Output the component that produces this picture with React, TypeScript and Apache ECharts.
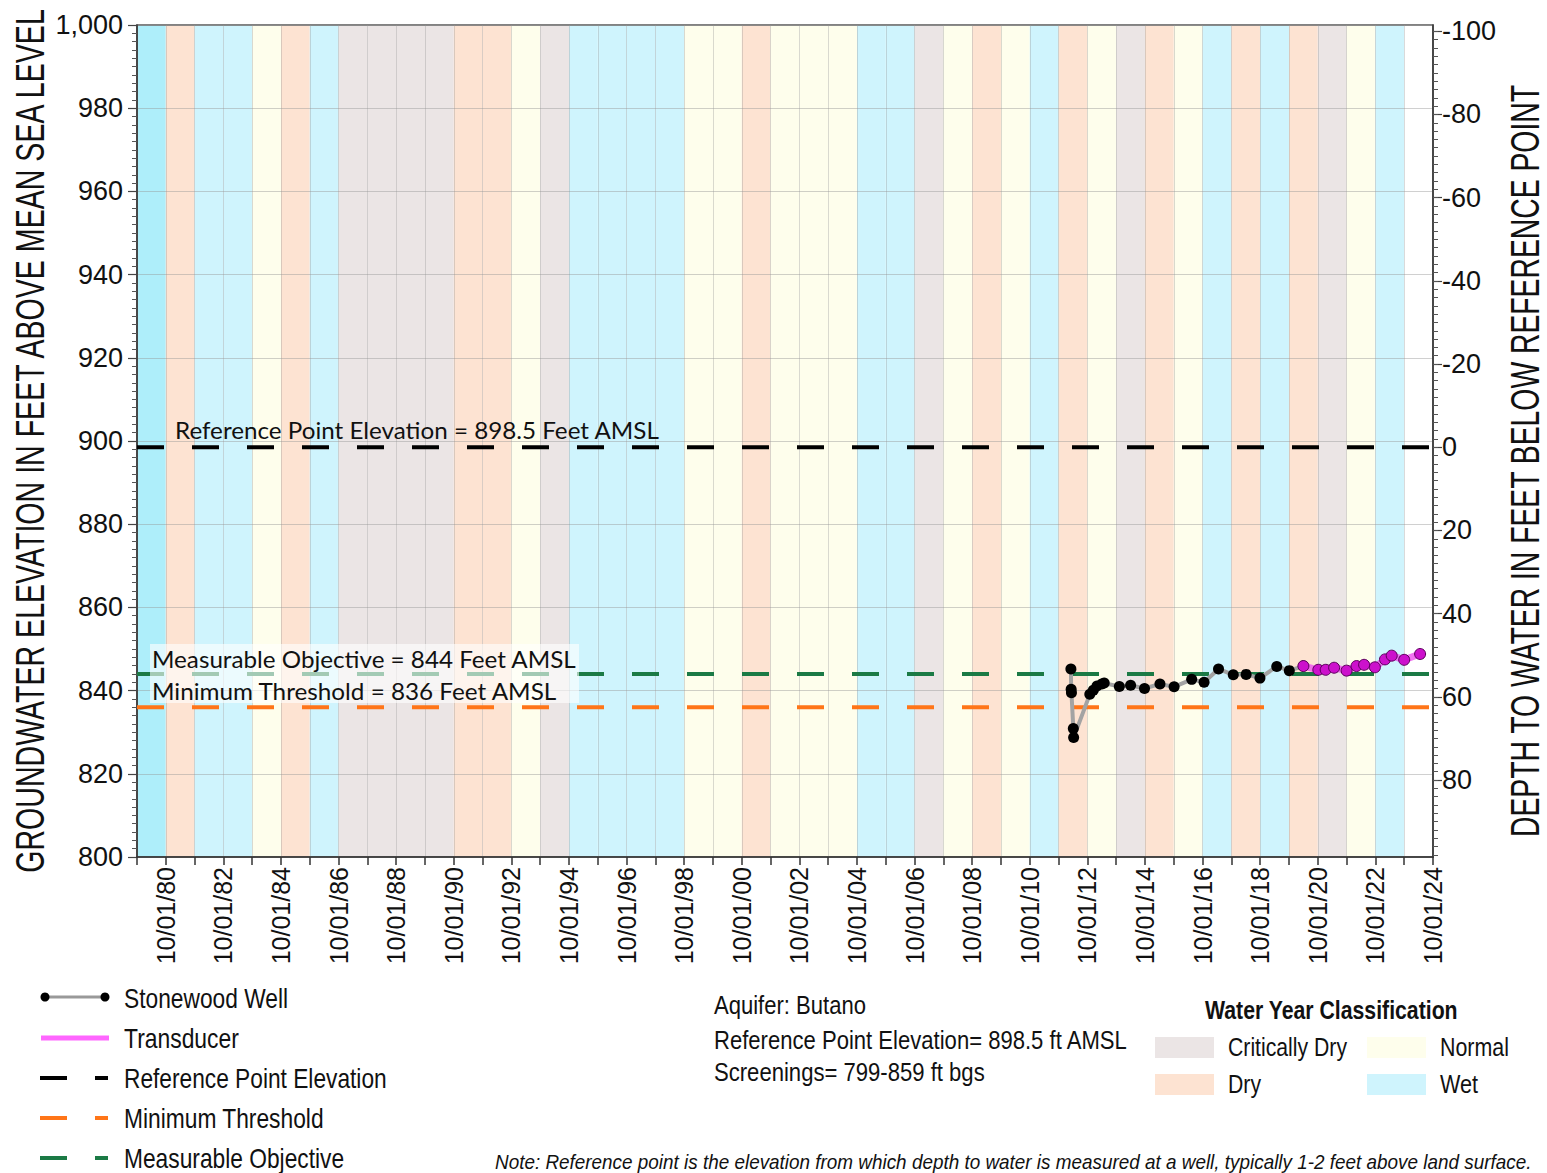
import React, { useEffect, useRef } from "react";
import * as echarts from "echarts";

// ---------------- DATA ----------------
const WATER_YEARS = [
  1980, 1981, 1982, 1983, 1984, 1985, 1986, 1987, 1988, 1989, 1990, 1991, 1992, 1993, 1994,
  1995, 1996, 1997, 1998, 1999, 2000, 2001, 2002, 2003, 2004, 2005, 2006, 2007, 2008, 2009,
  2010, 2011, 2012, 2013, 2014, 2015, 2016, 2017, 2018, 2019, 2020, 2021, 2022, 2023, 2024,
];
// C = Critically Dry, D = Dry, N = Normal, W = Wet, "" = not classified
const WY_CLASS = [
  "W", "D", "W", "W", "N", "D", "W", "C", "C", "C", "C", "D", "D", "N", "C",
  "W", "W", "W", "W", "N", "N", "D", "N", "N", "N", "W", "W", "C", "N", "D",
  "N", "W", "D", "N", "C", "D", "N", "W", "D", "W", "D", "C", "N", "W", "",
];

const WELL_DATES = [
  "2012-03-05", "2012-03-08", "2012-03-12", "2012-04-05", "2012-04-09", "2012-11-01",
  "2012-12-15", "2013-02-01", "2013-04-01", "2013-05-01", "2013-11-10", "2014-04-01",
  "2014-09-25", "2015-04-08", "2015-10-05", "2016-05-15", "2016-10-20", "2017-04-20",
  "2017-10-25", "2018-04-05", "2018-09-28", "2019-04-28", "2019-10-05", "2020-04-01",
];
const WELL_VALUES = [
  845.2, 840.3, 839.5, 830.9, 828.7, 839.1,
  840.1, 841.1, 841.6, 841.8, 841.0, 841.3,
  840.5, 841.6, 840.9, 842.7, 842.0, 845.2,
  843.8, 843.9, 843.0, 845.8, 844.8, 845.9,
];

const TRANSDUCER_DATES = [
  "2020-04-01", "2020-10-08", "2021-01-10", "2021-04-25", "2021-10-01", "2022-02-05",
  "2022-05-10", "2022-09-25", "2023-02-01", "2023-04-25", "2023-10-01", "2024-04-20",
];
const TRANSDUCER_VALUES = [
  845.9, 845.0, 845.0, 845.5, 844.8, 845.9,
  846.2, 845.6, 847.5, 848.4, 847.4, 848.8,
];

const REF_POINT_ELEV = 898.5;
const MEASURABLE_OBJECTIVE = 844;
const MINIMUM_THRESHOLD = 836;

const X_START = "1979-10-01";
const X_END = "2024-10-01";
const ELEV_MIN = 800;
const ELEV_MAX = 1000;

const X_TICK_LABELS = [
  "10/01/80", "10/01/82", "10/01/84", "10/01/86", "10/01/88", "10/01/90", "10/01/92", "10/01/94",
  "10/01/96", "10/01/98", "10/01/00", "10/01/02", "10/01/04", "10/01/06", "10/01/08", "10/01/10",
  "10/01/12", "10/01/14", "10/01/16", "10/01/18", "10/01/20", "10/01/22", "10/01/24",
];
const DEPTH_TICK_LABELS = [-100, -80, -60, -40, -20, 0, 20, 40, 60, 80];

// ---------------- HELPERS ----------------
const CLASS_COLORS: Record<string, string> = {
  C: "#ebe5e5",
  D: "#fde3d2",
  N: "#fefeec",
  W: "#cff4fd",
  "": "#ffffff",
};

function toYear(s: string): number {
  const [y, m, d] = s.split("-").map(Number);
  const dim = new Date(Date.UTC(y, m, 0)).getUTCDate();
  return y + (m - 1 + (d - 1) / dim) / 12;
}

let measureCtx: CanvasRenderingContext2D | null = null;
function measure(text: string, font: string): number {
  if (!measureCtx) measureCtx = document.createElement("canvas").getContext("2d");
  if (!measureCtx) return text.length * 10;
  measureCtx.font = font;
  return measureCtx.measureText(text).width;
}

function fitText(
  text: string,
  x: number,
  y: number,
  width: number,
  opts: { size: number; family?: string; weight?: string; style?: string; align?: string; rotation?: number; fill?: string }
) {
  const family = opts.family || "Liberation Sans";
  const weight = opts.weight || "normal";
  const fstyle = opts.style || "normal";
  const w = measure(text, `${fstyle} ${weight} ${opts.size}px "${family}"`);
  const scaleX = w > 0 ? width / w : 1;
  const align = opts.align || "left";
  return {
    type: "text",
    x,
    y,
    rotation: opts.rotation || 0,
    scaleX,
    z: 100,
    silent: true,
    style: {
      text,
      fontSize: opts.size,
      fontFamily: family,
      fontWeight: weight,
      fontStyle: fstyle,
      fill: opts.fill || "#111",
      align,
      textAlign: align,
      verticalAlign: "middle",
      textVerticalAlign: "middle",
    },
  };
}

// ---------------- COMPONENT ----------------
export default function App() {
  const ref = useRef<HTMLDivElement>(null);

  useEffect(() => {
    if (!ref.current) return;
    const chart = echarts.init(ref.current, undefined, { renderer: "svg" });

    const xMin = toYear(X_START);
    const xMax = toYear(X_END);
    const depthMin = REF_POINT_ELEV - ELEV_MAX;
    const depthMax = REF_POINT_ELEV - ELEV_MIN;

    const bandData = WATER_YEARS.map((wy, i) => [
      toYear(`${wy - 1}-10-01`),
      toYear(`${wy}-10-01`),
      i,
    ]);

    const wellData = WELL_DATES.map((d, i) => [toYear(d), WELL_VALUES[i]]);
    const transData = TRANSDUCER_DATES.map((d, i) => [toYear(d), TRANSDUCER_VALUES[i]]);

    const labelByYear: Record<number, string> = {};
    X_TICK_LABELS.forEach((l) => {
      const yy = Number(l.slice(6));
      const full = yy >= 50 ? 1900 + yy : 2000 + yy;
      labelByYear[full] = l;
    });

    const minorDepth: number[] = [];
    for (let v = -100; v <= 98; v += 2) minorDepth.push(v);

    const hline = (value: number, color: string, name: string) => ({
      type: "line",
      name,
      data: [
        [xMin, value],
        [xMax, value],
      ],
      symbol: "none",
      silent: true,
      z: 3,
      lineStyle: { color, width: 4, type: [27, 28], dashOffset: 0 },
    });

    const legendLineY = [997, 1038, 1078, 1118, 1158];

    const graphics: any[] = [
      // axis titles
      fitText("GROUNDWATER ELEVATION IN FEET ABOVE MEAN SEA LEVEL", 29, 441, 867, {
        size: 41,
        align: "center",
        rotation: Math.PI / 2,
      }),
      fitText("DEPTH TO WATER IN FEET BELOW REFERENCE POINT", 1524, 461, 753, {
        size: 41,
        align: "center",
        rotation: Math.PI / 2,
      }),
      // annotation box and labels
      {
        type: "rect",
        z: 99,
        silent: true,
        shape: { x: 150, y: 644, width: 429, height: 59 },
        style: { fill: "rgba(255,255,255,0.6)" },
      },
      fitText(`Reference Point Elevation = ${REF_POINT_ELEV} Feet AMSL`, 175, 430, 485, {
        size: 24,
        family: "Lato",
      }),
      fitText(`Measurable Objective = ${MEASURABLE_OBJECTIVE} Feet AMSL`, 152, 659, 425, {
        size: 24,
        family: "Lato",
      }),
      fitText(`Minimum Threshold = ${MINIMUM_THRESHOLD} Feet AMSL`, 152, 691, 406, {
        size: 24,
        family: "Lato",
      }),
      // left legend symbols
      {
        type: "line",
        z: 100,
        shape: { x1: 44, y1: legendLineY[0], x2: 105, y2: legendLineY[0] },
        style: { stroke: "#999", lineWidth: 3 },
      },
      { type: "circle", z: 101, shape: { cx: 45, cy: legendLineY[0], r: 4.5 }, style: { fill: "#000" } },
      { type: "circle", z: 101, shape: { cx: 105, cy: legendLineY[0], r: 4.5 }, style: { fill: "#000" } },
      {
        type: "line",
        z: 100,
        shape: { x1: 41, y1: legendLineY[1], x2: 109, y2: legendLineY[1] },
        style: { stroke: "#ff66ff", lineWidth: 5 },
      },
    ];
    const dashLegend = (y: number, color: string) => [
      { type: "line", z: 100, shape: { x1: 40, y1: y, x2: 67, y2: y }, style: { stroke: color, lineWidth: 4 } },
      { type: "line", z: 100, shape: { x1: 95, y1: y, x2: 108, y2: y }, style: { stroke: color, lineWidth: 4 } },
    ];
    graphics.push(...dashLegend(legendLineY[2], "#000"));
    graphics.push(...dashLegend(legendLineY[3], "#ff7518"));
    graphics.push(...dashLegend(legendLineY[4], "#1b7a45"));
    graphics.push(fitText("Stonewood Well", 124, 998, 164, { size: 27 }));
    graphics.push(fitText("Transducer", 124, 1038, 115, { size: 27 }));
    graphics.push(fitText("Reference Point Elevation", 124, 1078, 263, { size: 27 }));
    graphics.push(fitText("Minimum Threshold", 124, 1118, 200, { size: 27 }));
    graphics.push(fitText("Measurable Objective", 124, 1158, 220, { size: 27 }));

    // middle info
    graphics.push(fitText("Aquifer: Butano", 714, 1005, 152, { size: 26 }));
    graphics.push(fitText(`Reference Point Elevation= ${REF_POINT_ELEV} ft AMSL`, 714, 1040, 414, { size: 26 }));
    graphics.push(fitText("Screenings= 799-859 ft bgs", 714, 1072, 271, { size: 26 }));

    // water year classification legend
    graphics.push(fitText("Water Year Classification", 1205, 1010, 253, { size: 26, weight: "bold" }));
    const swatch = (x: number, y: number, c: string) => ({
      type: "rect",
      z: 100,
      shape: { x, y, width: 59, height: 21 },
      style: { fill: CLASS_COLORS[c] },
    });
    graphics.push(swatch(1155, 1037, "C"));
    graphics.push(swatch(1367, 1037, "N"));
    graphics.push(swatch(1155, 1074, "D"));
    graphics.push(swatch(1367, 1074, "W"));
    graphics.push(fitText("Critically Dry", 1228, 1047, 119, { size: 26 }));
    graphics.push(fitText("Normal", 1440, 1047, 69, { size: 26 }));
    graphics.push(fitText("Dry", 1228, 1084, 33, { size: 26 }));
    graphics.push(fitText("Wet", 1440, 1084, 38, { size: 26 }));

    graphics.push(
      fitText(
        "Note: Reference point is the elevation from which depth to water is measured at a well, typically 1-2 feet above land surface.",
        495,
        1162,
        1037,
        { size: 21, style: "italic" }
      )
    );

    const option: any = {
      animation: false,
      backgroundColor: "#ffffff",
      grid: {
        left: 137,
        right: 114,
        top: 25,
        bottom: 316,
        show: true,
        backgroundColor: "transparent",
        borderColor: "#5a5a5a",
        borderWidth: 1.5,
        containLabel: false,
      },
      xAxis: {
        type: "value",
        min: xMin,
        max: xMax,
        interval: 1,
        axisLine: { show: true, onZero: false, lineStyle: { color: "#333", width: 1.5 } },
        axisTick: { show: true, length: 8, lineStyle: { color: "#333", width: 1.5 } },
        axisLabel: {
          rotate: 90,
          margin: 10,
          fontSize: 25,
          fontFamily: "Liberation Sans",
          color: "#111",
          showMinLabel: true,
          showMaxLabel: true,
          formatter: (v: number) => {
            const y = Math.round(v - 0.75);
            return labelByYear[y] || "";
          },
        },
        splitLine: { show: true, lineStyle: { color: "rgba(150,150,150,0.35)", width: 1 } },
      },
      yAxis: [
        {
          type: "value",
          min: ELEV_MIN,
          max: ELEV_MAX,
          interval: 20,
          position: "left",
          axisLine: { show: true, onZero: false, lineStyle: { color: "#333", width: 1.5 } },
          axisTick: { show: true, length: 9, lineStyle: { color: "#444", width: 1.2 } },
          minorTick: { show: true, splitNumber: 10, length: 5, lineStyle: { color: "#555", width: 1 } },
          axisLabel: {
            margin: 14,
            fontSize: 27,
            fontFamily: "Liberation Sans",
            color: "#111",
            formatter: (v: number) => v.toLocaleString("en-US"),
          },
          splitLine: { show: true, lineStyle: { color: "rgba(150,150,150,0.45)", width: 1 } },
        },
        {
          type: "value",
          min: depthMin,
          max: depthMax,
          inverse: true,
          position: "right",
          axisLine: { show: true, onZero: false, lineStyle: { color: "#333", width: 1.5 } },
          axisTick: { show: true, length: 9, customValues: DEPTH_TICK_LABELS, lineStyle: { color: "#444", width: 1.2 } },
          axisLabel: {
            margin: 9,
            fontSize: 27,
            fontFamily: "Liberation Sans",
            color: "#111",
            customValues: DEPTH_TICK_LABELS,
          },
          splitLine: { show: false },
        },
        {
          type: "value",
          min: depthMin,
          max: depthMax,
          inverse: true,
          position: "right",
          axisLine: { show: false, onZero: false },
          axisTick: { show: true, length: 5, customValues: minorDepth, lineStyle: { color: "#555", width: 1 } },
          axisLabel: { show: false },
          splitLine: { show: false },
        },
      ],
      graphic: { elements: graphics },
      series: [
        {
          type: "custom",
          name: "Water Year Classification",
          silent: true,
          z: -1,
          xAxisIndex: 0,
          yAxisIndex: 0,
          encode: { x: [0, 1] },
          data: bandData,
          renderItem: (params: any, api: any) => {
            const s = api.coord([api.value(0), ELEV_MAX]);
            const e = api.coord([api.value(1), ELEV_MIN]);
            const i = api.value(2);
            const cls = WY_CLASS[i];
            const fill = i === 0 ? "#aeeefa" : CLASS_COLORS[cls];
            return {
              type: "rect",
              shape: { x: s[0], y: s[1], width: e[0] - s[0], height: e[1] - s[1] },
              style: { fill },
            };
          },
        },
        hline(REF_POINT_ELEV, "#000000", "Reference Point Elevation"),
        hline(MINIMUM_THRESHOLD, "#ff7518", "Minimum Threshold"),
        hline(MEASURABLE_OBJECTIVE, "#1b7a45", "Measurable Objective"),
        {
          type: "line",
          name: "Stonewood Well",
          data: wellData,
          z: 5,
          symbol: "circle",
          symbolSize: 11,
          showSymbol: true,
          lineStyle: { color: "#a3a3a3", width: 4 },
          itemStyle: { color: "#000" },
        },
        {
          type: "line",
          name: "Transducer",
          data: transData,
          z: 6,
          symbol: "circle",
          symbolSize: 11,
          showSymbol: true,
          lineStyle: { color: "rgba(238,90,238,0.85)", width: 7 },
          itemStyle: { color: "#cc11cc", borderColor: "#5a005a", borderWidth: 1 },
        },
      ],
    };

    chart.setOption(option);
    return () => chart.dispose();
  }, []);

  return (
    <div
      ref={ref}
      style={{ position: "fixed", left: 0, top: 0, width: 1547, height: 1173, background: "#fff" }}
    />
  );
}
